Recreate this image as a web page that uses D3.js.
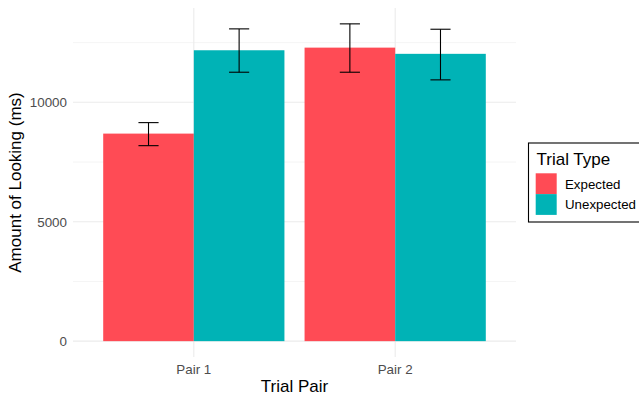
<!DOCTYPE html>
<html>
<head>
<meta charset="utf-8">
<script src="https://cdn.jsdelivr.net/npm/d3@7"></script>
<style>
  body { margin: 0; background: #fff; }
  text { font-family: "Liberation Sans", Arial, sans-serif; }
</style>
</head>
<body>
<svg id="chart" width="639" height="396"></svg>
<script>
var pairs = ["Pair 1", "Pair 2"];
var trialTypes = ["Expected", "Unexpected"];
var means = [[8690, 12180], [12290, 12030]];
var lower = [[8185, 11260], [11260, 10940]];
var upper = [[9150, 13075], [13285, 13060]];
var yTicks = [0, 5000, 10000];
var yMinor = [2500, 7500, 12500];

var colors = { "Expected": "#FF4B55", "Unexpected": "#00B3B6" };

var svg = d3.select("#chart");
var panel = { left: 73, right: 516, top: 8, bottom: 357 };

// discrete x with ggplot's 0.6 expansion
var x = d3.scaleLinear().domain([0.4, 2.6]).range([panel.left, panel.right]);
var yMax = d3.max(upper, d => d3.max(d));
var pad = yMax * 0.05;
var y = d3.scaleLinear().domain([-pad, yMax + pad]).range([panel.bottom, panel.top]);

var g = svg.append("g");

// minor grid
g.selectAll(".minor").data(yMinor).enter().append("line")
    .attr("x1", panel.left).attr("x2", panel.right)
    .attr("y1", d => y(d)).attr("y2", d => y(d))
    .style("stroke", "#ebebeb").style("stroke-width", "0.55px");

// major grid
g.selectAll(".major").data(yTicks).enter().append("line")
    .attr("x1", panel.left).attr("x2", panel.right)
    .attr("y1", d => y(d)).attr("y2", d => y(d))
    .style("stroke", "#ebebeb").style("stroke-width", "1.1px");

g.selectAll(".vgrid").data(pairs).enter().append("line")
    .attr("x1", (d, i) => x(i + 1)).attr("x2", (d, i) => x(i + 1))
    .attr("y1", panel.top).attr("y2", panel.bottom)
    .style("stroke", "#ebebeb").style("stroke-width", "1.1px");

// bars and error bars
var dodge = 0.9, barW = dodge / trialTypes.length;
pairs.forEach(function (p, i) {
    trialTypes.forEach(function (t, j) {
        var x0 = i + 1 - dodge / 2 + j * barW;
        g.append("rect")
            .attr("x", x(x0))
            .attr("width", x(x0 + barW) - x(x0))
            .attr("y", y(means[i][j]))
            .attr("height", y(0) - y(means[i][j]))
            .style("fill", colors[t]);
    });
});
pairs.forEach(function (p, i) {
    trialTypes.forEach(function (t, j) {
        var cx = i + 1 - dodge / 2 + (j + 0.5) * barW;
        var eb = g.append("g").style("stroke", "#000").style("stroke-width", "1.1px");
        eb.append("line").attr("x1", x(cx)).attr("x2", x(cx))
            .attr("y1", y(lower[i][j])).attr("y2", y(upper[i][j]));
        [lower[i][j], upper[i][j]].forEach(function (v) {
            eb.append("line").attr("x1", x(cx - 0.05)).attr("x2", x(cx + 0.05))
                .attr("y1", y(v)).attr("y2", y(v));
        });
    });
});

// axis labels
g.selectAll(".ytick").data(yTicks).enter().append("text")
    .attr("x", 67).attr("y", d => y(d)).attr("dy", "0.36em")
    .attr("text-anchor", "end")
    .style("font-size", "13.4px").style("fill", "#4d4d4d")
    .text(d => d);

g.selectAll(".xtick").data(pairs).enter().append("text")
    .attr("x", (d, i) => x(i + 1)).attr("y", 374)
    .attr("text-anchor", "middle")
    .style("font-size", "13.4px").style("fill", "#4d4d4d")
    .text(d => d);

g.append("text")
    .attr("x", (panel.left + panel.right) / 2).attr("y", 391.5)
    .attr("text-anchor", "middle")
    .style("font-size", "17px").style("fill", "#000")
    .text("Trial Pair");

g.append("text")
    .attr("transform", "translate(21," + ((panel.top + panel.bottom) / 2) + ") rotate(-90)")
    .attr("text-anchor", "middle")
    .style("font-size", "17px").style("fill", "#000")
    .text("Amount of Looking (ms)");

// legend
var lg = svg.append("g");
lg.append("rect")
    .attr("x", 528.5).attr("y", 143).attr("width", 115).attr("height", 79)
    .style("fill", "#fff").style("stroke", "#000").style("stroke-width", "1.1px");
lg.append("text")
    .attr("x", 536.5).attr("y", 165)
    .style("font-size", "17px").style("fill", "#000")
    .text("Trial Type");
trialTypes.forEach(function (t, k) {
    lg.append("rect")
        .attr("x", 535.7).attr("y", 173.3 + k * 20.8)
        .attr("width", 21).attr("height", 20.8)
        .style("fill", colors[t]);
    lg.append("text")
        .attr("x", 565).attr("y", 188.5 + k * 20.8)
        .style("font-size", "13.3px").style("fill", "#000")
        .text(t);
});
</script>
</body>
</html>
